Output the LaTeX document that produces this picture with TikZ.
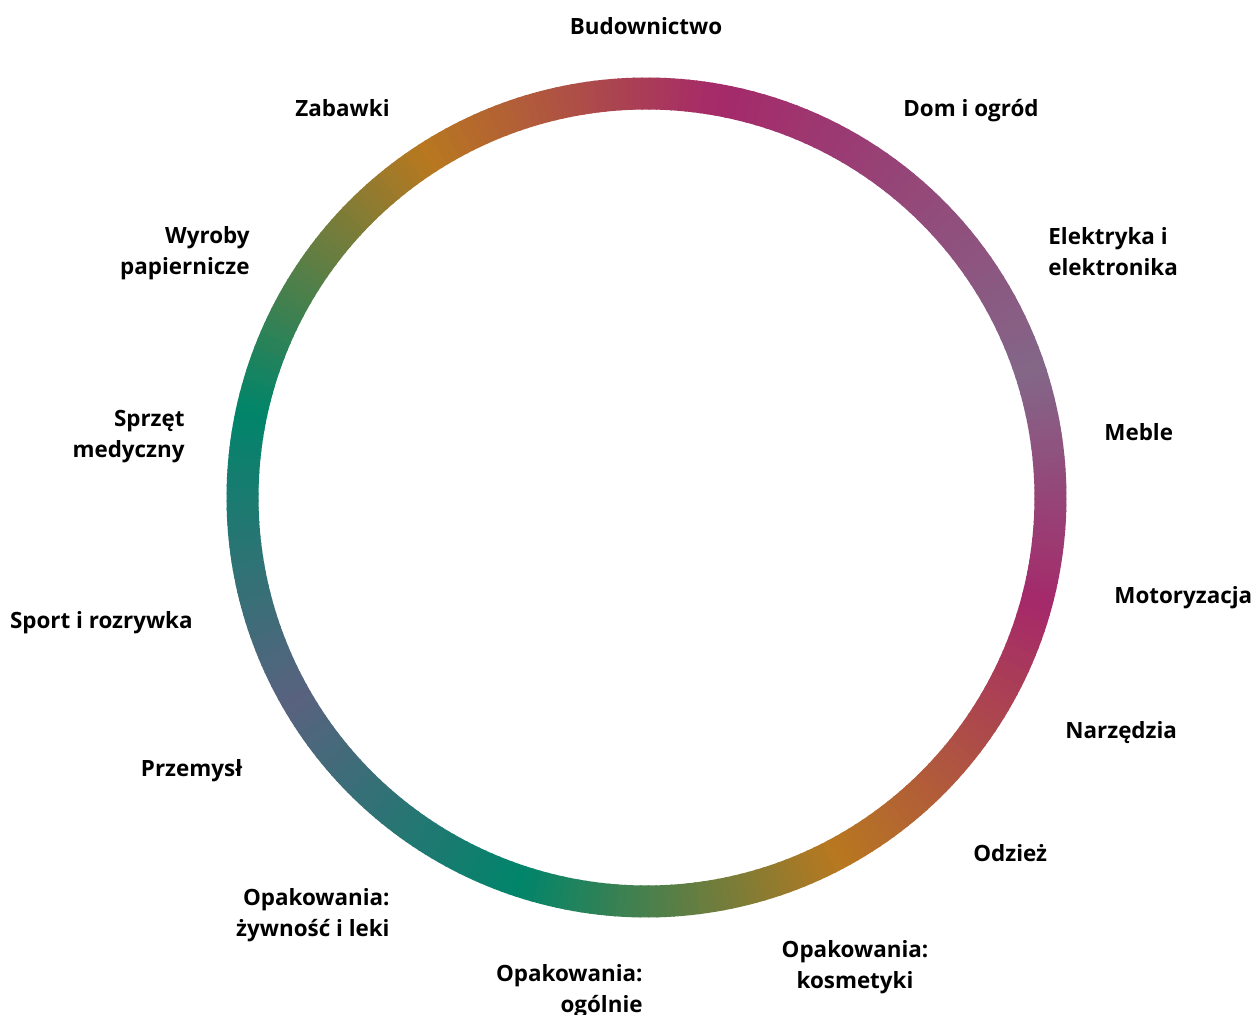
\documentclass[tikz,border=0pt]{standalone}
\usepackage{fontspec}
\setmainfont{Open Sans}
\definecolor{ringmag}{HTML}{A5296A}
\definecolor{ringpur}{HTML}{836788}
\definecolor{ringora}{HTML}{B8781F}
\definecolor{ringgrn}{HTML}{00856A}
\definecolor{ringsla}{HTML}{59627F}
\begin{document}
\begin{tikzpicture}[x=0.5pt,y=0.5pt,line cap=butt]
\tikzset{sector/.style={font=\fontsize{11.2}{15.5}\selectfont\bfseries,inner sep=0pt}}
\useasboundingbox (0,0) rectangle (1253,-1015);
\coordinate (c) at (646.5,-497.5);
% ring with colour stops
\foreach \sa/\ea/\ca/\cb in {80/18/ringmag/ringpur,18/-15/ringpur/ringmag,-15/-62/ringmag/ringora,-62/-108/ringora/ringgrn,-108/-150/ringgrn/ringsla,-150/-192/ringsla/ringgrn,-192/-237/ringgrn/ringora,-237/-280/ringora/ringmag}
{
	\foreach \i in {0,...,39}
	{
		\pgfmathtruncatemacro{\p}{100*(\i+0.5)/40}
		\pgfmathsetmacro{\aa}{\sa+(\ea-\sa)*\i/40}
		\pgfmathsetmacro{\bb}{\sa+(\ea-\sa)*(\i+1.2)/40}
		\draw[line width=16pt,draw=\cb!\p!\ca,shift={(c)}] (\aa:404) arc (\aa:\bb:404);
	}
}
% labels (two-line nodes sit on their last line)
\node[sector,anchor=base] (bud) at (646,-35) {Budownictwo};
\node[sector,anchor=base west] (dom) at (903,-117) {Dom i ogród};
\node[sector,anchor=base west,align=left] (ele) at (1048,-276) {Elektryka i\\elektronika};
\node[sector,anchor=base west] (meb) at (1104,-441) {Meble};
\node[sector,anchor=base west] (mot) at (1114,-604) {Motoryzacja};
\node[sector,anchor=base west] (nar) at (1065,-738) {Narzędzia};
\node[sector,anchor=base west] (odz) at (973,-861) {Odzież};
\node[sector,anchor=base,align=center] (kos) at (855,-988) {Opakowania:\\kosmetyki};
\node[sector,anchor=base east,align=right] (ogo) at (643,-1012) {Opakowania:\\ogólnie};
\node[sector,anchor=base east,align=right] (zyw) at (390,-936) {Opakowania:\\żywność i leki};
\node[sector,anchor=base east] (prz) at (243,-776) {Przemysł};
\node[sector,anchor=base east] (spo) at (193,-629) {Sport i rozrywka};
\node[sector,anchor=base east,align=right] (med) at (185,-458) {Sprzęt\\medyczny};
\node[sector,anchor=base east,align=right] (wyr) at (250,-275) {Wyroby\\papiernicze};
\node[sector,anchor=base east] (zab) at (390,-117) {Zabawki};
\end{tikzpicture}
\end{document}
